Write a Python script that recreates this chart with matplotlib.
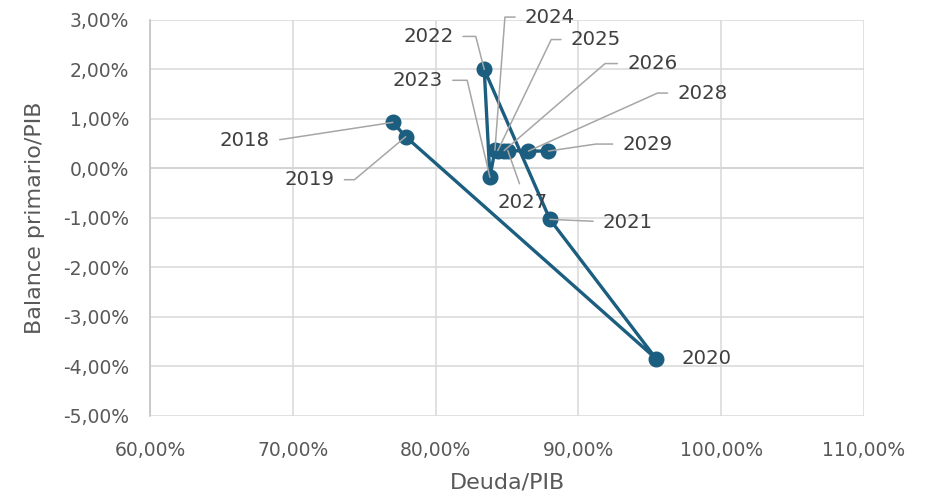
import matplotlib
matplotlib.use('Agg')
import matplotlib.pyplot as plt
from matplotlib.ticker import FuncFormatter

plt.rcParams['font.family'] = ['DejaVu Sans']

# Deuda/PIB (x) y balance primario/PIB (y), en %
years = ['2018', '2019', '2020', '2021', '2022', '2023', '2024',
         '2025', '2026', '2027', '2028', '2029']
deuda = [77.0, 77.9, 95.45, 88.0, 83.4, 83.8, 84.15, 84.35, 84.8, 85.05, 86.5, 87.9]
balance = [0.93, 0.64, -3.85, -1.03, 2.0, -0.18, 0.37, 0.36, 0.36, 0.36, 0.35, 0.35]

# posicion de cada etiqueta (pixeles respecto al punto), anclaje de la guia, angulo
etiquetas = {
    '2018': ((-148, -18), (1, 0.5), 8.7),
    '2019': ((-96, -43), (1, 0.5), 40),
    '2020': ((50, 0), None, None),
    '2021': ((78, -3), (0, 0.5), -2.5),
    '2022': ((-56, 33), (1, 0.5), 104.4),
    '2023': ((-72, 97), (1, 0.5), 103.2),
    '2024': ((55, 133), (0, 0.5), 85.7),
    '2025': ((98, 111), (0, 0.5), 64.3),
    '2026': ((148, 87), (0, 0.5), 40.8),
    '2027': ((15, -52), (0.5, 1), None),
    '2028': ((174, 58), (0, 0.5), 24.2),
    '2029': ((99, 7), (0, 0.5), 8.4),
}

azul = '#1b5e80'
gris_txt = '#595959'

fig = plt.figure(figsize=(9.27, 4.98), dpi=100)
ax = fig.add_axes([0.162, 0.165, 0.770, 0.795])

ax.plot(deuda, balance, color=azul, lw=2.4, marker='o', markersize=10.5, zorder=3)

for yr, x, y in zip(years, deuda, balance):
    off, rel, ang = etiquetas[yr]
    arrow = None
    if rel is not None:
        cs = 'arc3' if ang is None else f'angle,angleA=0,angleB={ang},rad=0'
        arrow = dict(arrowstyle='-', color='#a6a6a6', lw=1.1, shrinkA=5, shrinkB=0,
                     relpos=rel, connectionstyle=cs)
    ax.annotate(yr, xy=(x, y), xytext=off, textcoords='offset pixels',
                ha='center', va='center', fontsize=14.2, color='#404040',
                arrowprops=arrow, zorder=4)

ax.set_xlim(60, 110)
ax.set_ylim(-5, 3)
ax.set_xticks(range(60, 111, 10))
ax.set_yticks(range(-5, 4))
pct = FuncFormatter(lambda v, p: f'{v:.2f}%'.replace('.', ','))
ax.xaxis.set_major_formatter(pct)
ax.yaxis.set_major_formatter(pct)

ax.grid(True, color='#d9d9d9', lw=1.1, zorder=0)
ax.axhline(0, color='#bfbfbf', lw=1.3, zorder=1)
for s in ['top', 'right', 'bottom']:
    ax.spines[s].set_visible(False)
ax.spines['left'].set_color('#bfbfbf')
ax.spines['left'].set_linewidth(1.1)
ax.tick_params(length=0, labelsize=13.5, labelcolor=gris_txt)
ax.tick_params(axis='x', pad=18)
ax.tick_params(axis='y', pad=15)

ax.set_xlabel('Deuda/PIB', fontsize=16, color=gris_txt, labelpad=9)
ax.set_ylabel('Balance primario/PIB', fontsize=16, color=gris_txt, labelpad=13)

fig.savefig('out.png', dpi=100)
